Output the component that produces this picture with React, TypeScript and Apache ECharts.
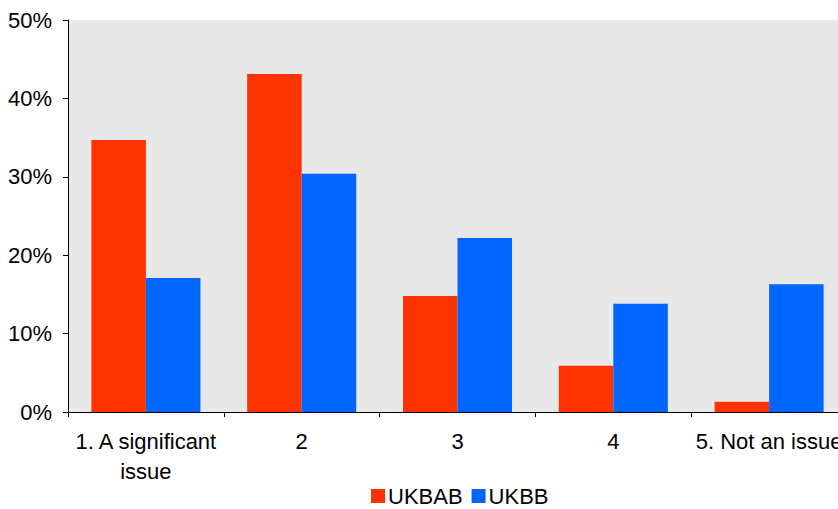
import React, { useEffect, useRef } from "react";
import * as echarts from "echarts";

const categories = ["1. A significant\nissue", "2", "3", "4", "5. Not an issue"];
const ukbab = [34.7, 43.1, 14.8, 5.9, 1.3];
const ukbb = [17.1, 30.4, 22.2, 13.8, 16.3];
const yTicks = [0, 10, 20, 30, 40, 50];

const FONT = "'Liberation Sans', Arial, sans-serif";

export default function App() {
  const ref = useRef<HTMLDivElement>(null);

  useEffect(() => {
    if (!ref.current) return;
    const chart = echarts.init(ref.current, null, { renderer: "svg" });
    chart.setOption({
      animation: false,
      backgroundColor: "#ffffff",
      textStyle: { fontFamily: FONT },
      grid: {
        left: 68,
        top: 20,
        width: 779,
        height: 392,
        show: true,
        backgroundColor: "#E8E8E8",
        borderWidth: 0,
        containLabel: false,
        outerBoundsMode: "none",
      },
      legend: {
        top: 485,
        left: 371,
        padding: 0,
        itemWidth: 14,
        itemHeight: 14,
        itemGap: 9,
        icon: "rect",
        textStyle: { fontSize: 22, color: "#000", fontFamily: FONT, padding: [0, 0, 0, -2] },
        data: ["UKBAB", "UKBB"],
      },
      xAxis: {
        type: "category",
        data: categories,
        axisLine: { show: true, lineStyle: { color: "#000", width: 1 } },
        axisTick: { show: true, length: 5, lineStyle: { color: "#000" }, alignWithLabel: false },
        axisLabel: {
          fontSize: 22,
          color: "#000",
          margin: 14,
          lineHeight: 30,
          interval: 0,
          fontFamily: FONT,
        },
        splitLine: { show: false },
      },
      yAxis: {
        type: "value",
        min: 0,
        max: 50,
        interval: 10,
        axisLine: { show: true, lineStyle: { color: "#000", width: 1 } },
        axisTick: { show: true, length: 5, lineStyle: { color: "#000" } },
        axisLabel: {
          fontSize: 22,
          color: "#000",
          margin: 16,
          fontFamily: FONT,
          formatter: (v: number) => (yTicks.includes(v) ? `${v}%` : ""),
        },
        splitLine: { show: false },
      },
      series: [
        {
          name: "UKBAB",
          type: "bar",
          data: ukbab,
          itemStyle: { color: "#FF3300" },
          barGap: "0%",
          barCategoryGap: "30%",
        },
        {
          name: "UKBB",
          type: "bar",
          data: ukbb,
          itemStyle: { color: "#0066FF" },
          barGap: "0%",
          barCategoryGap: "30%",
        },
      ],
    });
    return () => chart.dispose();
  }, []);

  return <div ref={ref} style={{ width: 838, height: 509, position: "absolute", left: 0, top: 0 }} />;
}
